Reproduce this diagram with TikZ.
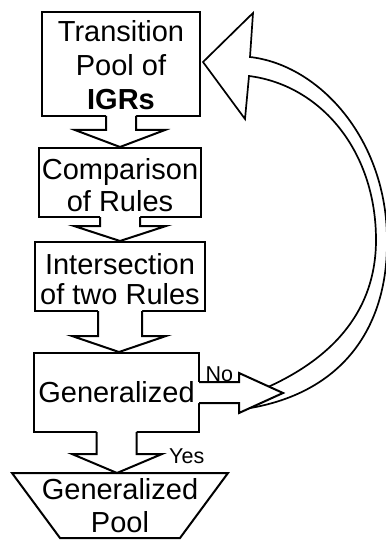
\documentclass[tikz,border=0pt]{standalone}
\usepackage{fontspec}
\setmainfont{Liberation Sans}
\usetikzlibrary{calc}
\tikzset{
  box/.style={draw=black, line width=2pt, fill=white, inner sep=0pt},
  txt/.style={align=center, inner sep=0pt},
  lbl/.style={inner sep=0pt, font=\fontsize{21.5}{24}\selectfont},
  arrowline/.style={draw=black, line width=2pt, line join=miter},
}
\newcommand{\blockdown}[5]{%
  \coordinate (sl) at ($(#1)+(-#3,0)$);
  \coordinate (sr) at ($(#1)+(#3,0)$);
  \coordinate (wl) at ($(#2)+(-#4,-#5)$);
  \coordinate (wr) at ($(#2)+(#4,-#5)$);
  \fill[white] ($(sl)+(0,-1.8)$) -- (sl |- wl) -- (wl) -- (#2) -- (wr) -- (sr |- wr) -- ($(sr)+(0,-1.8)$) -- cycle;
  \draw[arrowline] ($(sl)+(0,-1)$) -- (sl |- wl) -- (wl) -- (#2) -- (wr) -- (sr |- wr) -- ($(sr)+(0,-1)$);
}
\begin{document}
\begin{tikzpicture}[x=1pt,y=-1pt]
\useasboundingbox (0,0) rectangle (385,540);

% boxes
\node[box, minimum width=158pt, minimum height=104pt] (b1) at (121,64) {};
\node[box, minimum width=162pt, minimum height=69pt] (b2) at (120,182.5) {};
\node[box, minimum width=170pt, minimum height=69pt] (b3) at (120,276.5) {};
\node[box, minimum width=165pt, minimum height=79pt] (b4) at (116.5,392.5) {};

% trapezoid
\coordinate (tl) at (12,473);
\coordinate (tr) at (228,473);
\coordinate (br) at (180,538);
\coordinate (bl) at (60,538);
\draw[box] (tl) -- (tr) -- (br) -- (bl) -- cycle;
\coordinate (ptop) at (117,473);

% texts
\node[txt, font=\fontsize{29}{34}\selectfont] (t1) at (121,65.6) {Transition\\Pool of\\\textbf{IGRs}};
\node[txt, font=\fontsize{29}{32}\selectfont] (t2) at (120,185.6) {Comparison\\of Rules};
\node[txt, font=\fontsize{29}{30}\selectfont] (t3) at (120,279.6) {Intersection\\of two Rules};
\node[txt, font=\fontsize{29}{33}\selectfont] (t4) at (116.5,392.5) {Generalized};
\node[txt, font=\fontsize{29}{33}\selectfont] (t5) at (120,506) {Generalized\\Pool};

% curved feedback arrow
\coordinate (b1tip) at ($(b1.east)+(2,-2)$);
\filldraw[fill=white, draw=black, line width=1.7pt, line join=miter]
  (244,409) .. controls (340,395) and (388,330) .. (387,240)
  .. controls (387,140) and (320,65) .. (250,57)
  -- (253,13) -- (b1tip) -- (245,119) -- (249,76)
  .. controls (320,85) and (376,150) .. (376,240)
  .. controls (376,300) and (345,352) .. (268,387) -- cycle;

% No arrow
\coordinate (notip) at (283,393);
\fill[white] ($(b4.east)+(-1.8,-10.5)$) -- (239,382) -- (239,373) -- (notip) -- (239,413) -- (239,403) -- ($(b4.east)+(-1.8,10.5)$) -- cycle;
\draw[arrowline] ($(b4.east)+(-1,-10.5)$) -- (239,382) -- (239,373) -- (notip) -- (239,413) -- (239,403) -- ($(b4.east)+(-1,10.5)$);

% down arrows
\coordinate (b4in) at ($(b4.north)+(2.5,0)$);
\blockdown{b1.south}{b2.north}{15}{45}{17}
\blockdown{b2.south}{b3.north}{20}{46}{15}
\blockdown{b3.south}{b4in}{22}{47}{16}
\blockdown{b4.south}{ptop}{20}{45}{19}

% labels
\node[lbl, anchor=base west] (no) at (205.5,381) {No};
\node[lbl, anchor=base west] (yes) at (169,463) {Yes};
\end{tikzpicture}
\end{document}
